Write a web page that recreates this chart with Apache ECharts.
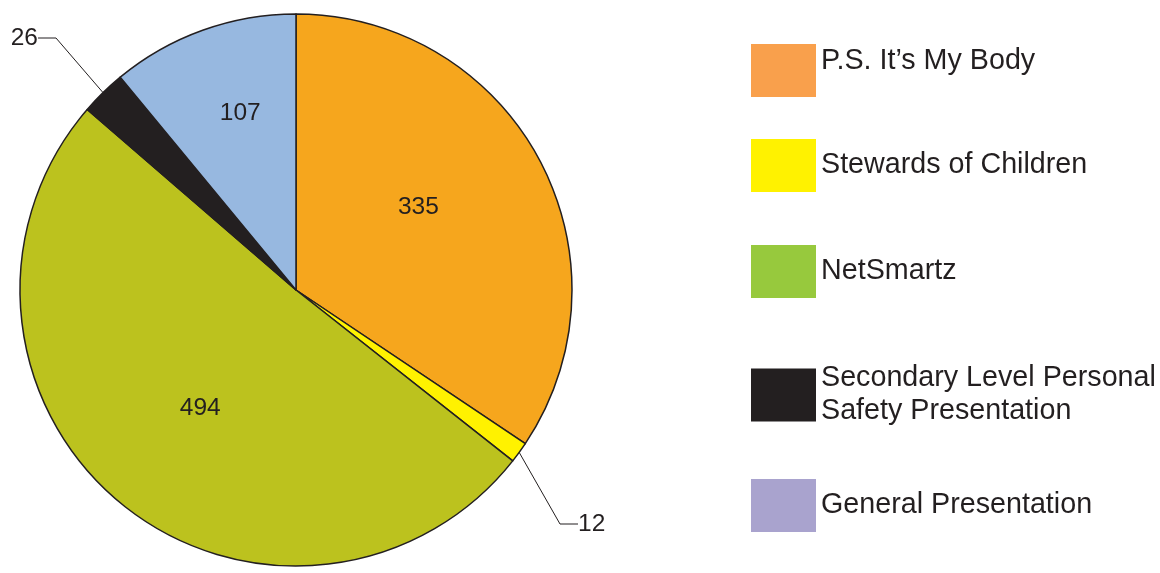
<!DOCTYPE html>
<html>
<head>
<meta charset="utf-8">
<script src="https://cdn.jsdelivr.net/npm/echarts@6/dist/echarts.min.js"></script>
<style>
html,body{margin:0;padding:0;background:#fff;}
#c{width:1160px;height:573px;}
</style>
</head>
<body>
<div id="c"></div>
<script>
var categories = ['P.S. It\u2019s My Body', 'Stewards of Children', 'NetSmartz', 'Secondary Level Personal\nSafety Presentation', 'General Presentation'];
var values = [335, 12, 494, 26, 107];
var pieColors = ['#F6A61D', '#FFF200', '#BCC21E', '#231F20', '#97B8E0'];
var legendColors = ['#F9A04C', '#FFF200', '#97C93D', '#231F20', '#A9A3CE'];

var labelPos = ['inside', 'outside', 'inside', 'outside', 'inside'];
// nudges for inside labels: [lines before, lines after, lineHeight, right padding]
var labelNudge = [[0, 1, 32, 4], null, [1, 0, 20, 12], null, [0, 2, 44, 16]];
var legendTops = [44, 139, 245, 362, 479];

var chart = echarts.init(document.getElementById('c'));
var font = '"Liberation Sans", Arial, Helvetica, sans-serif';
var ink = '#231F20';

function repeat(s, n) { var r = ''; for (var k = 0; k < n; k++) r += s; return r; }

var data = categories.map(function (n, i) {
  var lbl = { position: labelPos[i] };
  var nd = labelNudge[i];
  if (nd) {
    lbl.lineHeight = nd[2];
    lbl.padding = [0, nd[3], 0, 0];
    lbl.formatter = repeat('\n', nd[0]) + '{c}' + repeat('\n', nd[1]);
  }
  return {
    name: n,
    value: values[i],
    itemStyle: { color: pieColors[i] },
    label: lbl
  };
});

var legends = categories.map(function (n, i) {
  var ts = { fontFamily: font, fontSize: 28.7, color: ink, lineHeight: 33 };
  var lg = {
    left: 751,
    top: legendTops[i],
    padding: 0,
    orient: 'vertical',
    selectedMode: false,
    itemWidth: 65,
    itemHeight: 53,
    icon: 'rect',
    textStyle: ts,
    data: [{ name: n, itemStyle: { color: legendColors[i], borderWidth: 0 } }]
  };
  if (i === 0) {
    ts.lineHeight = 18;
    lg.formatter = function (name) { return name + '\n'; };
  }
  return lg;
});

chart.setOption({
  animation: false,
  backgroundColor: '#fff',
  legend: legends,
  series: [{
    type: 'pie',
    center: [296, 290],
    radius: 276,
    startAngle: 90,
    clockwise: true,
    avoidLabelOverlap: false,
    itemStyle: { borderColor: ink, borderWidth: 1.5 },
    label: {
      formatter: '{c}',
      fontFamily: font,
      fontSize: 24.5,
      color: ink,
      distanceToLabelLine: 3
    },
    labelLine: {
      show: true,
      length: 72,
      length2: 18,
      lineStyle: { color: ink, width: 1 }
    },
    labelLayout: function (p) {
      if (p.dataIndex === 1) {
        return { x: 578, y: 524, align: 'left', verticalAlign: 'middle' };
      }
      if (p.dataIndex === 3) {
        return { x: 38, y: 38, align: 'right', verticalAlign: 'middle' };
      }
    },
    emphasis: { disabled: true },
    data: data
  }]
});
</script>
</body>
</html>
